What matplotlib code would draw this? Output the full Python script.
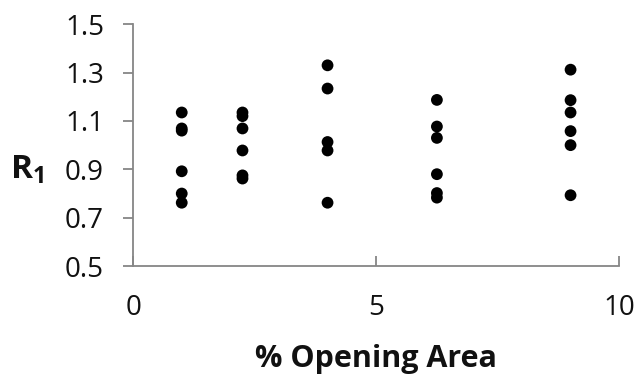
import matplotlib
matplotlib.use("Agg")
import matplotlib.pyplot as plt

# % opening area for each test group and the measured R1 values
opening_area = [1.0, 2.25, 4.0, 6.25, 9.0]
r1_values = [
    [1.135, 1.069, 1.060, 0.892, 0.800, 0.762],
    [1.135, 1.120, 1.069, 0.978, 0.875, 0.862],
    [1.330, 1.234, 1.013, 0.978, 0.762],
    [1.187, 1.077, 1.030, 0.880, 0.802, 0.783],
    [1.312, 1.186, 1.135, 1.058, 1.000, 0.793],
]
x_ticks = [0, 5, 10]
y_ticks = [0.5, 0.7, 0.9, 1.1, 1.3, 1.5]

plt.rcParams["font.family"] = ["Open Sans", "DejaVu Sans"]
plt.rcParams["mathtext.fontset"] = "custom"
plt.rcParams["mathtext.bf"] = "Open Sans:bold"
plt.rcParams["mathtext.rm"] = "Open Sans"

fig = plt.figure(figsize=(6.37, 3.78), dpi=100)
ax = fig.add_axes([0.209, 0.296, 0.763, 0.640])

xs, ys = [], []
for x, vals in zip(opening_area, r1_values):
    xs.extend([x] * len(vals))
    ys.extend(vals)
ax.scatter(xs, ys, s=72, color="black", edgecolors="none", zorder=3, clip_on=False)

ax.set_xlim(0, 10)
ax.set_ylim(0.5, 1.5)
ax.set_xticks(x_ticks)
ax.set_yticks(y_ticks)
ax.set_yticklabels([f"{v:.1f}" for v in y_ticks])
ax.set_xticklabels([str(v) for v in x_ticks])

axis_grey = "#868686"
for side in ("top", "right"):
    ax.spines[side].set_visible(False)
for side in ("left", "bottom"):
    ax.spines[side].set_color(axis_grey)
    ax.spines[side].set_linewidth(1.3)

ax.tick_params(axis="y", direction="out", length=7, width=1.3, color=axis_grey,
               labelsize=20, pad=14, labelcolor="#111111")
ax.tick_params(axis="x", direction="in", length=7, width=1.3, color=axis_grey,
               labelsize=20, pad=20, labelcolor="#111111")

ax.set_xlabel("% Opening Area", fontsize=22, fontweight="bold", labelpad=16,
              color="#111111")
ax.set_ylabel(r"$\mathbf{R}_{\mathbf{1}}$", fontsize=24, rotation=0,
              va="center", ha="center", color="#111111")
ax.yaxis.set_label_coords(-0.218, 0.40)

fig.savefig("out.png", dpi=100)
